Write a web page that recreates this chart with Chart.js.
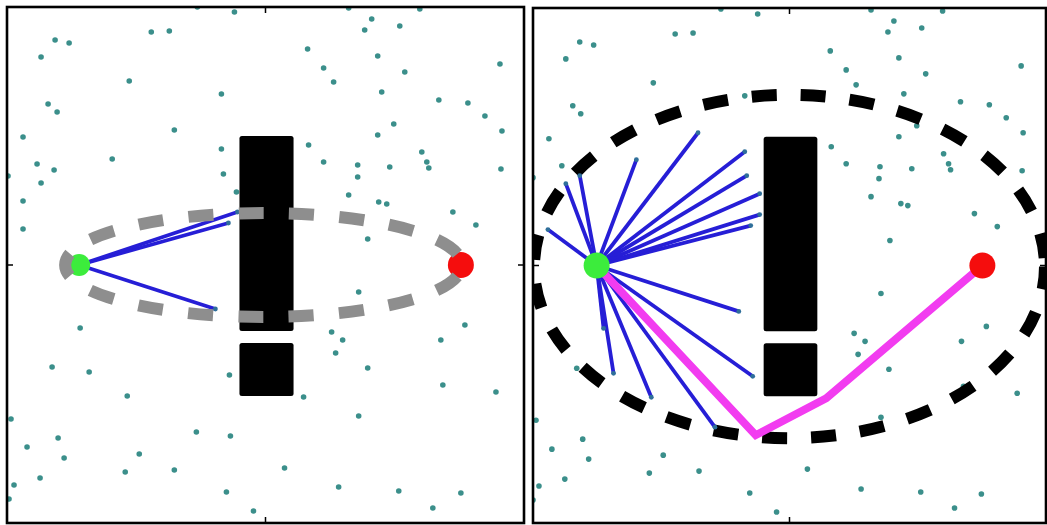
<!DOCTYPE html>
<html><head><meta charset="utf-8">
<script src="https://cdn.jsdelivr.net/npm/chart.js@4.4.1/dist/chart.umd.min.js"></script>
<style>
html,body{margin:0;padding:0;background:#fff;overflow:hidden;}
#w{position:relative;width:1047px;height:525px;}
.p{position:absolute;top:0;}
</style></head><body>
<div id="w">
<div class="p" style="left:0;width:531px;height:530px"><canvas id="c1" width="531" height="530"></canvas></div>
<div class="p" style="left:526px;width:521px;height:530px"><canvas id="c2" width="521" height="530"></canvas></div>
</div>
<script>
// ---- world extents and tick values (map units) ----
const worldX = [0, 516];
const worldY = [0, 516];
const xTicks = [258];
const yTicks = [258];

// ---- obstacles: [x0, x1, y0, y1] ----
const obstacles = [[232, 286, 192, 387], [232, 286, 127, 180]];

// ---- left panel ----
const leftSamples = [[190,516],[227,511],[341,515],[144,491],[162,492],[48,483],[62,480],[34,466],[300,474],[316,455],[326,441],[122,442],[214,429],[41,419],[50,411],[167,393],[16,386],[214,374],[301,378],[105,364],[30,359],[47,353],[316,361],[216,349],[1,347],[34,340],[16,322],[16,294],[229,331],[341,328],[73,195],[324,191],[335,183],[328,170],[45,156],[82,151],[222,148],[120,127],[296,126],[4,104],[189,91],[223,87],[51,85],[20,76],[132,69],[57,65],[118,51],[167,53],[277,55],[33,45],[7,38],[331,36],[219,31],[2,24],[246,12],[412,514],[364,504],[357,493],[392,497],[370,467],[492,459],[397,451],[374,431],[431,423],[460,420],[477,407],[494,392],[386,399],[370,388],[414,371],[419,361],[421,355],[350,358],[382,356],[350,346],[493,354],[371,321],[379,319],[445,311],[468,298],[360,284],[351,231],[457,198],[433,183],[360,155],[435,138],[488,131],[351,107],[391,32],[453,30],[425,15]];
const leftStart = [72, 258];
const leftGoal = [453, 258];
const leftEdges = [[230,311],[221,300],[208,214]];
const leftEllipse = [256, 258, 198, 52]; // cx, cy, a, b

// ---- right panel ----
const rightSamples = [[47,482],[61,479],[33,465],[143,490],[121,441],[40,418],[48,410],[16,385],[29,358],[0,346],[44,155],[3,103],[50,84],[19,74],[56,64],[131,68],[117,50],[32,44],[6,37],[0,23],[189,515],[226,510],[161,491],[340,514],[363,503],[357,492],[391,496],[412,513],[299,473],[368,466],[491,458],[315,454],[395,450],[325,439],[213,428],[373,430],[430,422],[459,419],[476,406],[386,398],[493,391],[368,387],[300,377],[413,370],[418,360],[420,354],[315,360],[349,357],[381,355],[492,353],[348,345],[340,327],[370,320],[377,318],[444,310],[467,297],[359,283],[350,230],[456,197],[323,190],[334,182],[431,182],[327,169],[358,154],[433,137],[487,130],[350,106],[167,52],[276,54],[218,30],[330,34],[390,31],[451,29],[245,11],[424,15]];
const rightStart = [64, 258];
const rightGoal = [452, 258];
const rightEdges = [[15,294],[33,340],[47,348],[104,364],[166,391],[213,372],[215,348],[228,330],[228,309],[219,298],[207,212],[221,147],[81,150],[71,195],[119,126],[183,96]];
const rightPath = [[64,258],[224,88],[295,125],[452,258]];
const rightEllipse = [258, 257, 257, 172];

const pt = ([x, y]) => ({x, y});

function ellipsePerimeter(a, b) {
  const h = Math.pow((a - b) / (a + b), 2);
  return Math.PI * (a + b) * (1 + 3 * h / (10 + Math.sqrt(4 - 3 * h)));
}

function buildChart(canvasId, opt) {
  const datasets = [];
  datasets.push({label: 'samples', data: opt.samples.map(pt), pointRadius: 2.8,
    pointBackgroundColor: '#3b8f8b', pointBorderWidth: 0, showLine: false, order: 10});
  opt.edges.forEach((e, i) => datasets.push({label: 'edge' + i, data: [pt(opt.start), pt(e)],
    showLine: true, borderColor: 'rgb(38,30,214)', borderWidth: opt.edgeWidth, pointRadius: 0, order: 6}));
  if (opt.path) datasets.push({label: 'path', data: opt.path.map(pt), showLine: true,
    borderColor: '#f23cf0', borderWidth: 8, pointRadius: 0, order: 5, borderJoinStyle: 'miter'});
  datasets.push({label: 'nodes', data: opt.edges.map(pt), pointRadius: 2.4,
    pointBackgroundColor: '#2f6f9a', pointBorderWidth: 0, showLine: false, order: 4});
  datasets.push({label: 'start', data: [pt(opt.start)], pointRadius: opt.startR,
    pointBackgroundColor: '#3cec3c', pointBorderWidth: 0, showLine: false, order: 2});
  datasets.push({label: 'goal', data: [pt(opt.goal)], pointRadius: 13,
    pointBackgroundColor: '#f50d0d', pointBorderWidth: 0, showLine: false, order: 1});

  function drawObstacles(chart) {
    const {ctx, scales: {x, y}} = chart;
    ctx.save();
    ctx.fillStyle = '#000';
    obstacles.forEach(([x0, x1, y0, y1]) => {
      const px0 = x.getPixelForValue(x0), px1 = x.getPixelForValue(x1);
      const py0 = y.getPixelForValue(y1), py1 = y.getPixelForValue(y0);
      ctx.beginPath();
      if (ctx.roundRect) ctx.roundRect(px0, py0, px1 - px0, py1 - py0, 2.5);
      else ctx.rect(px0, py0, px1 - px0, py1 - py0);
      ctx.fill();
    });
    ctx.restore();
  }
  function drawEllipse(chart) {
    const {ctx, chartArea: ca, scales: {x, y}} = chart;
    const [cx, cy, a, b] = opt.ellipse;
    const pcx = x.getPixelForValue(cx), pcy = y.getPixelForValue(cy);
    const rx = Math.abs(x.getPixelForValue(cx + a) - pcx);
    const ry = Math.abs(y.getPixelForValue(cy + b) - pcy);
    ctx.save();
    ctx.beginPath();
    ctx.rect(ca.left, ca.top, ca.right - ca.left, ca.bottom - ca.top);
    ctx.clip();
    let dash, gap, off;
    if (opt.ellipseCentered) {
      const half = ellipsePerimeter(rx, ry) / 2;
      const k = Math.round(half / 50 + 0.5);
      const period = half / (k - 0.5);
      dash = 25; gap = period - dash; off = dash + gap / 2;
    } else { dash = 25; gap = 24; off = 2; }
    ctx.setLineDash([dash, gap]);
    ctx.lineDashOffset = off;
    ctx.lineCap = 'butt';
    ctx.lineWidth = 12;
    ctx.strokeStyle = opt.ellipseColor;
    ctx.beginPath();
    ctx.ellipse(pcx, pcy, rx, ry, 0, 0, Math.PI * 2);
    ctx.stroke();
    ctx.restore();
  }
  const plugin = {
    id: 'scene',
    afterDatasetDraw(chart, args) {
      const ds = chart.data.datasets[args.index];
      if (ds.label === 'samples') {
        drawObstacles(chart);
        if (!opt.ellipseOnTop) drawEllipse(chart);
      }
    },
    afterDatasetsDraw(chart) {
      if (opt.ellipseOnTop) drawEllipse(chart);
    },
    afterDraw(chart) {
      const {ctx, chartArea: ca, scales: {x, y}} = chart;
      ctx.save();
      ctx.strokeStyle = '#000';
      ctx.lineWidth = 1.5;
      ctx.beginPath();
      xTicks.forEach(v => {
        const px = x.getPixelForValue(v);
        ctx.moveTo(px, ca.top); ctx.lineTo(px, ca.top + 6);
        ctx.moveTo(px, ca.bottom); ctx.lineTo(px, ca.bottom - 6);
      });
      yTicks.forEach(v => {
        const py = y.getPixelForValue(v);
        ctx.moveTo(ca.left, py); ctx.lineTo(ca.left + 6, py);
        ctx.moveTo(ca.right, py); ctx.lineTo(ca.right - 6, py);
      });
      ctx.stroke();
      ctx.lineWidth = 2.6;
      ctx.strokeRect(ca.left, ca.top, ca.right - ca.left, ca.bottom - ca.top);
      ctx.restore();
    }
  };
  return new Chart(document.getElementById(canvasId), {
    type: 'scatter',
    data: {datasets},
    options: {
      responsive: false, animation: false, devicePixelRatio: 1,
      layout: {padding: opt.padding, autoPadding: false},
      plugins: {legend: {display: false}, tooltip: {enabled: false}},
      scales: {
        x: {type: 'linear', min: worldX[0], max: worldX[1], display: false},
        y: {type: 'linear', min: worldY[0], max: worldY[1], display: false}
      }
    },
    plugins: [plugin]
  });
}

buildChart('c1', {samples: leftSamples, start: leftStart, goal: leftGoal, edges: leftEdges,
  ellipse: leftEllipse, ellipseColor: '#8e8e8e', ellipseOnTop: true, ellipseCentered: true,
  startR: 11, edgeWidth: 3.5, padding: {left: 7, top: 7, right: 7, bottom: 7}});
buildChart('c2', {samples: rightSamples, start: rightStart, goal: rightGoal, edges: rightEdges,
  path: rightPath, ellipse: rightEllipse, ellipseColor: '#000', ellipseOnTop: false, ellipseCentered: false,
  startR: 13, edgeWidth: 3.8, padding: {left: 7, top: 8, right: 1, bottom: 7}});
</script>
</body></html>
